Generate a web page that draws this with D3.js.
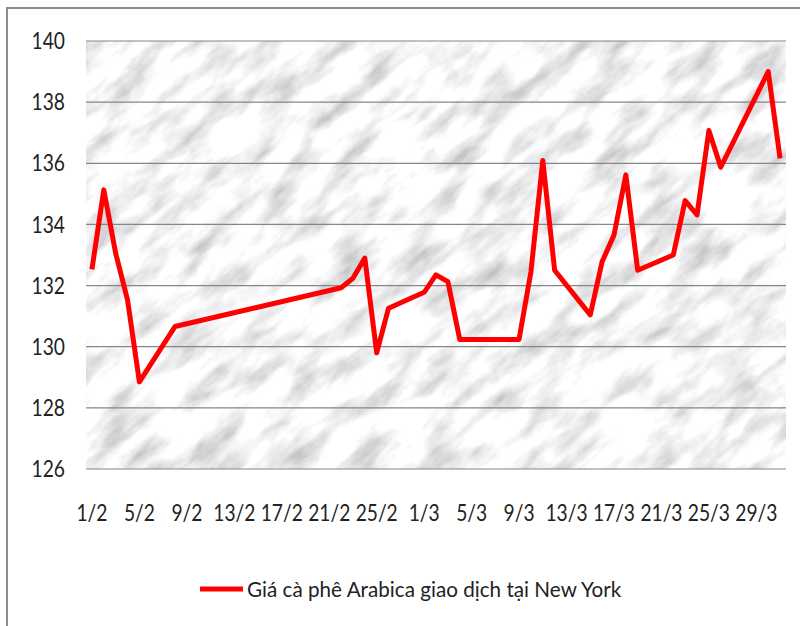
<!DOCTYPE html>
<html>
<head>
<meta charset="utf-8">
<script src="https://cdn.jsdelivr.net/npm/d3@7"></script>
<style>
  body { margin: 0; background: #fff; }
  text { font-family: Lato, 'Open Sans', sans-serif; fill: #222; }
</style>
</head>
<body>
<div id="canvas"></div>
<script>
// Arabica coffee price (US cents/lb), New York, Feb-Mar 2010
const dates = ['1/2','2/2','3/2','4/2','5/2','8/2','22/2','23/2','24/2','25/2','26/2',
  '1/3','2/3','3/3','4/3','5/3','8/3','9/3','10/3','11/3','12/3','15/3','16/3','17/3',
  '18/3','19/3','22/3','23/3','24/3','25/3','26/3','30/3','31/3'];
const prices = [132.53,135.13,133.06,131.53,128.85,130.66,131.93,132.24,132.9,129.8,131.26,
  131.78,132.35,132.13,130.24,130.24,130.24,130.24,132.45,136.09,132.5,131.04,132.78,133.65,
  135.62,132.5,133.0,134.78,134.31,137.07,135.87,139.0,136.16];
const tickLabels = ['1/2','5/2','9/2','13/2','17/2','21/2','25/2','1/3','5/3','9/3','13/3','17/3','21/3','25/3','29/3'];
const yTicks = [126,128,130,132,134,136,138,140];
const seriesName = 'Giá cà phê Arabica giao dịch tại New York';

const w = 800;
const h = 626;
const margin = {left: 86, right: 14, top: 41, bottom: 157};
const squeeze = 0.8; // text in the source is narrow and tall

const fmt = d3.timeFormat('%-d/%-m');
const days = d3.timeDay.range(new Date(2010, 1, 1), new Date(2010, 3, 1)).map(fmt);

const svg = d3.select('#canvas')
  .append('svg')
  .attr('width', w)
  .attr('height', h);

const defs = svg.append('defs');
const filter = defs.append('filter')
  .attr('id', 'marble')
  .attr('x', 0).attr('y', 0).attr('width', '100%').attr('height', '100%');
filter.append('feTurbulence')
  .attr('type', 'fractalNoise')
  .attr('baseFrequency', '0.018 0.045')
  .attr('numOctaves', 5)
  .attr('seed', 11)
  .attr('result', 'noise');
filter.append('feColorMatrix')
  .attr('in', 'noise')
  .attr('type', 'matrix')
  .attr('values', '-1.05 0 0 0 1.45  -1.05 0 0 0 1.45  -1.05 0 0 0 1.47  0 0 0 0 1');

const x = d3.scaleBand()
  .domain(days)
  .range([margin.left, w - margin.right]);

const y = d3.scaleLinear()
  .domain([126, 140])
  .range([h - margin.bottom, margin.top]);

// outer frame
svg.append('rect')
  .attr('x', 7).attr('y', 8)
  .attr('width', w + 20).attr('height', h + 20)
  .attr('fill', 'none')
  .attr('stroke', '#8c8c8c')
  .attr('stroke-width', 2);

// plot area with marble texture
svg.append('clipPath').attr('id', 'plotclip')
  .append('rect')
  .attr('x', margin.left).attr('y', margin.top)
  .attr('width', w - margin.left - margin.right)
  .attr('height', h - margin.top - margin.bottom);

svg.append('g')
  .attr('clip-path', 'url(#plotclip)')
  .append('rect')
  .attr('x', -300).attr('y', -300)
  .attr('width', 1400).attr('height', 1200)
  .attr('transform', 'rotate(-40 435 255)')
  .attr('filter', 'url(#marble)');

// gridlines
svg.append('g')
  .selectAll('line')
  .data(yTicks)
  .enter()
  .append('line')
  .attr('x1', margin.left)
  .attr('x2', w - margin.right)
  .attr('y1', d => y(d))
  .attr('y2', d => y(d))
  .attr('stroke', '#868686')
  .attr('stroke-width', 1.2);

// y axis labels
const yAxis = d3.axisLeft(y).tickValues(yTicks).tickSize(0);
svg.append('g')
  .attr('transform', 'translate(' + margin.left + ',0)')
  .call(yAxis)
  .call(g => g.select('.domain').remove())
  .selectAll('text')
  .attr('x', 0)
  .attr('transform', 'translate(-21,0) scale(' + squeeze + ',1)')
  .style('font-size', '24px');

// x axis labels
const xAxis = d3.axisBottom(x).tickValues(tickLabels).tickSize(0).tickPadding(35);
svg.append('g')
  .attr('transform', 'translate(0,' + (h - margin.bottom) + ')')
  .call(xAxis)
  .call(g => g.select('.domain').remove())
  .selectAll('text')
  .attr('transform', 'scale(' + squeeze + ',1)')
  .style('font-size', '24px');

// series line
const line = d3.line()
  .x((d, i) => x(dates[i]) + x.bandwidth() / 2)
  .y(d => y(d));

svg.append('path')
  .datum(prices)
  .attr('fill', 'none')
  .attr('stroke', '#ff0000')
  .attr('stroke-width', 5)
  .attr('stroke-linejoin', 'round')
  .attr('d', line);

// legend
const legend = svg.append('g')
  .attr('transform', 'translate(200, 589)');
legend.append('line')
  .attr('x1', 0).attr('x2', 43)
  .attr('stroke', '#ff0000')
  .attr('stroke-width', 5);
legend.append('text')
  .attr('transform', 'translate(47,0) scale(0.94,1)')
  .attr('dy', '0.35em')
  .style('font-size', '22px')
  .text(seriesName);
</script>
</body>
</html>
